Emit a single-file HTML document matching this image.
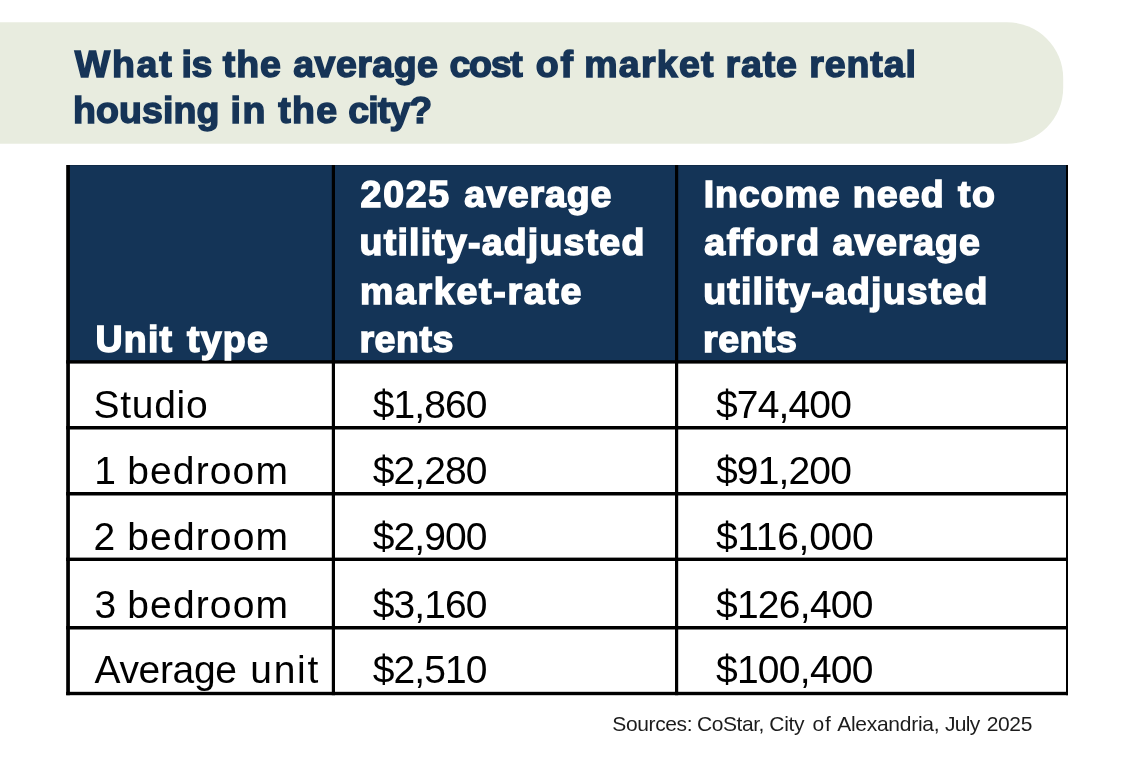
<!DOCTYPE html>
<html lang="en">
<head>
<meta charset="utf-8">
<title>What is the average cost of market rate rental housing in the city?</title>
<style>
html,body{margin:0;padding:0;background:#fff;}
body{width:1124px;height:760px;position:relative;overflow:hidden;font-family:"Liberation Sans",sans-serif;}
svg.bg{position:absolute;left:0;top:0;}
h1,p{margin:0;padding:0;font-size:inherit;font-weight:inherit;}
.ln{display:block;position:absolute;white-space:nowrap;line-height:1;}
.title{font-size:37.5px;font-weight:700;color:#163457;-webkit-text-stroke:1.5px #163457;}
.th{font-size:37.5px;font-weight:700;color:#fff;-webkit-text-stroke:1.5px #fff;}
.td{font-size:39px;font-weight:400;color:#000;}
.src{font-size:21px;font-weight:400;color:#1c1c1c;}
</style>
</head>
<body>
<svg class="bg" width="1124" height="760" viewBox="0 0 1124 760">
<path d="M0 22.25H1007.2a56 56 0 0 1 56 56V87.8a56 56 0 0 1-56 56H0Z" fill="#e8ecdf"/>
<rect x="68" y="165" width="999" height="197" fill="#143457"/>
<rect x="68" y="165" width="999" height="1" fill="#000" fill-opacity="0.18"/>
<rect x="66.2" y="360.2" width="1001.8" height="3.4" fill="#000"/>
<rect x="66.2" y="426.0" width="1001.8" height="3.5" fill="#000"/>
<rect x="66.2" y="492.0" width="1001.8" height="3.5" fill="#000"/>
<rect x="66.2" y="557.6" width="1001.8" height="3.4" fill="#000"/>
<rect x="66.2" y="626.0" width="1001.8" height="3.5" fill="#000"/>
<rect x="66.2" y="691.8" width="1001.8" height="3.4" fill="#000"/>
<rect x="66.2" y="165" width="3.7" height="530.2" fill="#000"/>
<rect x="331.8" y="165" width="3.2" height="530.2" fill="#000"/>
<rect x="675.0" y="165" width="3.2" height="530.2" fill="#000"/>
<rect x="1066.0" y="165" width="2.0" height="530.2" fill="#000"/>
</svg>
<h1>
<span class="ln title" id="t1" style="left:74.87px;top:46.26px"><span style="letter-spacing:1.725px">What</span> <span style="letter-spacing:-0.450px;margin-left:-2.30px">is</span> <span style="letter-spacing:1.021px;margin-left:0.36px">the</span> <span style="letter-spacing:0.473px;margin-left:0.84px">average</span> <span style="letter-spacing:-1.275px;margin-left:0.65px">cost</span> <span style="letter-spacing:1.725px;margin-left:3.97px">of</span> <span style="letter-spacing:1.255px;margin-left:-0.90px">market</span> <span style="letter-spacing:0.890px;margin-left:0.35px">rate</span> <span style="letter-spacing:0.917px;margin-left:0.92px">rental</span></span>
<span class="ln title" id="t2" style="left:73.00px;top:92.26px"><span style="letter-spacing:0.083px">housing</span> <span style="letter-spacing:1.576px;margin-left:0.59px">in</span> <span style="letter-spacing:1.271px;margin-left:0.99px">the</span> <span style="letter-spacing:-0.901px;margin-left:-0.44px">city?</span></span>
</h1>
<div role="table" aria-label="Average market-rate rents by unit type">
<div role="row">
<div role="columnheader">
<span class="ln th" id="h1" style="left:95.39px;top:321.26px"><span style="letter-spacing:1.277px">Unit</span> <span style="letter-spacing:1.195px;margin-left:3.27px">type</span></span>
</div>
<div role="columnheader">
<span class="ln th" id="h2a" style="left:360.59px;top:175.56px"><span style="letter-spacing:1.725px">2025</span> <span style="letter-spacing:0.923px;margin-left:2.84px">average</span></span>
<span class="ln th" id="h2b" style="left:359.62px;top:223.96px"><span style="letter-spacing:1.200px">utility-adjusted</span></span>
<span class="ln th" id="h2c" style="left:359.92px;top:272.56px"><span style="letter-spacing:1.725px">market-rate</span></span>
<span class="ln th" id="h2d" style="left:359.45px;top:320.96px"><span style="letter-spacing:0.582px">rents</span></span>
</div>
<div role="columnheader">
<span class="ln th" id="h3a" style="left:703.74px;top:175.56px"><span style="letter-spacing:0.900px">Income</span> <span style="letter-spacing:1.175px;margin-left:1.80px">need</span> <span style="letter-spacing:1.725px;margin-left:2.61px">to</span></span>
<span class="ln th" id="h3b" style="left:704.19px;top:223.96px"><span style="letter-spacing:1.725px">afford</span> <span style="letter-spacing:0.923px;margin-left:1.28px">average</span></span>
<span class="ln th" id="h3c" style="left:703.22px;top:272.56px"><span style="letter-spacing:1.160px">utility-adjusted</span></span>
<span class="ln th" id="h3d" style="left:703.05px;top:320.96px"><span style="letter-spacing:0.532px">rents</span></span>
</div>
</div>
<div role="row">
<div role="cell"><span class="ln td" id="r1a" style="left:93.59px;top:385.19px"><span style="letter-spacing:0.701px">Studio</span></span></div>
<div role="cell"><span class="ln td" id="r1b" style="left:372.85px;top:385.19px"><span style="letter-spacing:-0.957px">$1,860</span></span></div>
<div role="cell"><span class="ln td" id="r1c" style="left:715.95px;top:385.19px"><span style="letter-spacing:-0.840px">$74,400</span></span></div>
</div>
<div role="row">
<div role="cell"><span class="ln td" id="r2a" style="left:94.30px;top:451.09px"><span>1</span> <span style="letter-spacing:1.121px;margin-left:0.41px">bedroom</span></span></div>
<div role="cell"><span class="ln td" id="r2b" style="left:372.85px;top:451.09px"><span style="letter-spacing:-0.957px">$2,280</span></span></div>
<div role="cell"><span class="ln td" id="r2c" style="left:715.95px;top:451.09px"><span style="letter-spacing:-0.840px">$91,200</span></span></div>
</div>
<div role="row">
<div role="cell"><span class="ln td" id="r3a" style="left:93.60px;top:516.69px"><span>2</span> <span style="letter-spacing:1.138px;margin-left:1.11px">bedroom</span></span></div>
<div role="cell"><span class="ln td" id="r3b" style="left:372.85px;top:516.69px"><span style="letter-spacing:-0.957px">$2,900</span></span></div>
<div role="cell"><span class="ln td" id="r3c" style="left:715.95px;top:516.69px"><span style="letter-spacing:-0.300px">$116,000</span></span></div>
</div>
<div role="row">
<div role="cell"><span class="ln td" id="r4a" style="left:94.43px;top:585.39px"><span>3</span> <span style="letter-spacing:1.138px;margin-left:0.28px">bedroom</span></span></div>
<div role="cell"><span class="ln td" id="r4b" style="left:372.85px;top:585.39px"><span style="letter-spacing:-0.957px">$3,160</span></span></div>
<div role="cell"><span class="ln td" id="r4c" style="left:715.95px;top:585.39px"><span style="letter-spacing:-0.728px">$126,400</span></span></div>
</div>
<div role="row">
<div role="cell"><span class="ln td" id="r5a" style="left:94.50px;top:650.29px"><span style="letter-spacing:-0.345px">Average</span> <span style="letter-spacing:1.667px;margin-left:2.88px">unit</span></span></div>
<div role="cell"><span class="ln td" id="r5b" style="left:372.85px;top:650.29px"><span style="letter-spacing:-0.957px">$2,510</span></span></div>
<div role="cell"><span class="ln td" id="r5c" style="left:715.95px;top:650.29px"><span style="letter-spacing:-0.728px">$100,400</span></span></div>
</div>
</div>
<p><span class="ln src" id="src" style="left:612.37px;top:713.42px"><span style="letter-spacing:-0.396px">Sources:</span> <span style="letter-spacing:-0.412px;margin-left:-1.06px">CoStar,</span> <span style="letter-spacing:-0.303px;margin-left:-0.60px">City</span> <span style="letter-spacing:0.966px;margin-left:2.34px">of</span> <span style="letter-spacing:-0.263px;margin-left:-0.59px">Alexandria,</span> <span style="letter-spacing:-0.714px;margin-left:-0.23px">July</span> <span style="letter-spacing:-0.414px;margin-left:1.57px">2025</span></span></p>
</body>
</html>
